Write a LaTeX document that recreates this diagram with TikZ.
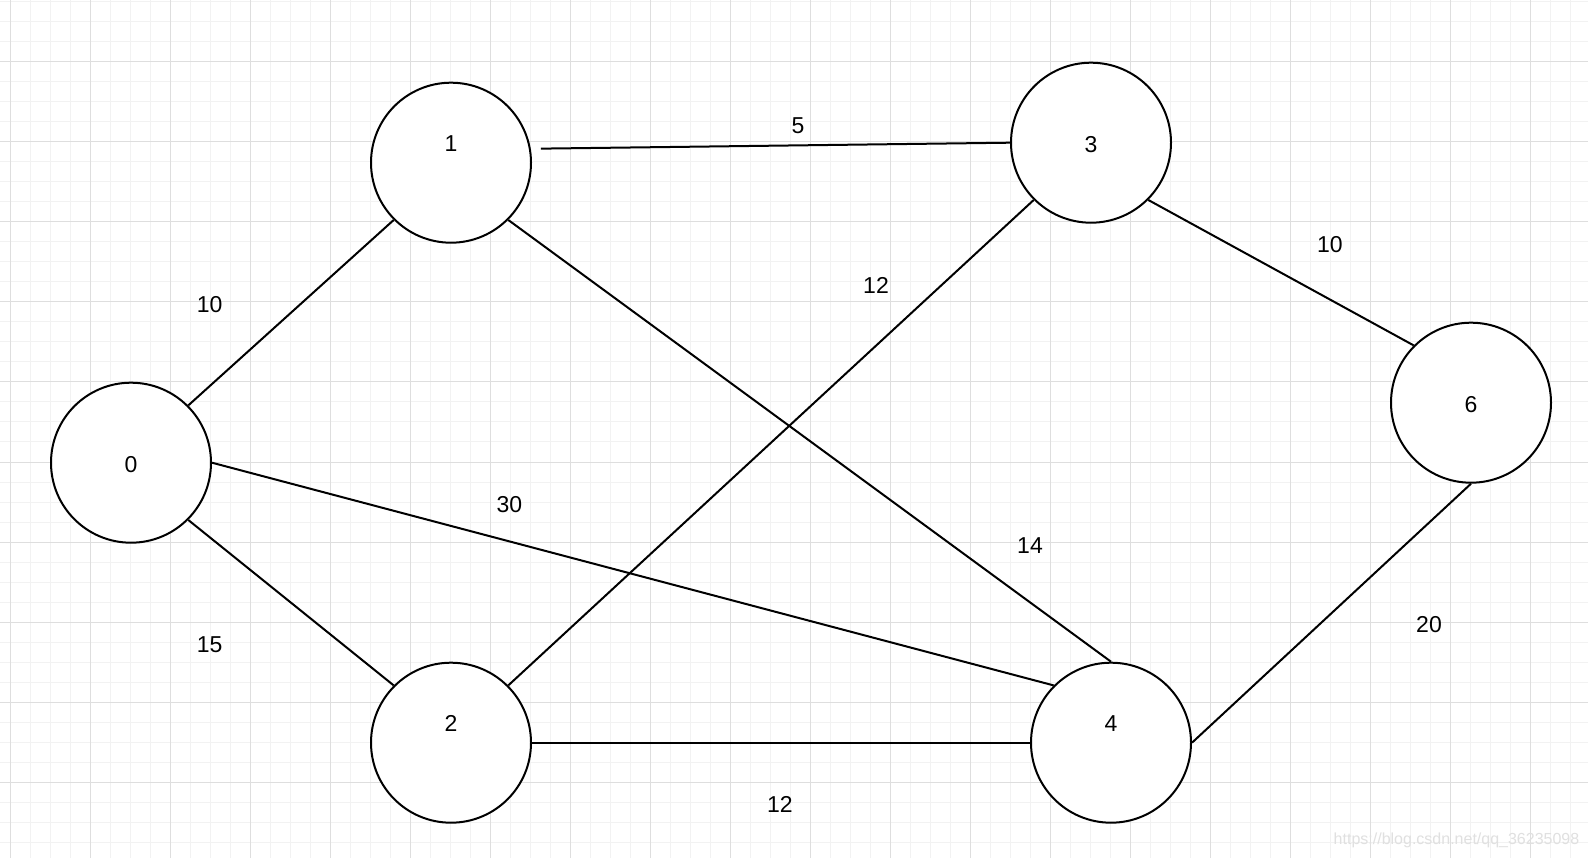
\documentclass[tikz,border=0pt]{standalone}
\usepackage{fontspec}
\setmainfont{Liberation Sans}

\begin{document}
\begin{tikzpicture}[x=1pt,y=-1pt,line width=2pt,
    vertex/.style={circle,draw,fill=white,minimum size=160pt,inner sep=0pt,
      text height=19.5pt,font=\fontsize{23}{28}\selectfont},
    raised/.style={text depth=41.5pt},
    weight/.style={font=\fontsize{23}{28}\selectfont},
    minorline/.style={draw=black!5,line width=1pt},
    majorline/.style={draw=black!13,line width=1pt}]
  \useasboundingbox[fill=white] (0,0) rectangle (1588,858);

  % background grid
  \foreach \gx in {10.7,30.7,...,1588} \draw[minorline] (\gx,0) -- (\gx,858);
  \foreach \gy in {2,22,...,858} \draw[minorline] (0,\gy) -- (1588,\gy);
  \foreach \gx in {10.7,90.7,...,1588} \draw[majorline] (\gx,0) -- (\gx,858);
  \foreach \gy in {62,142,...,858} \draw[majorline] (0,\gy) -- (1588,\gy);

  \node[vertex]        (v0) at (131,462.7)  {0};
  \node[vertex,raised] (v1) at (451,162.7)  {1};
  \node[vertex,raised] (v2) at (451,742.7)  {2};
  \node[vertex]        (v3) at (1091,142.7) {3};
  \node[vertex,raised] (v4) at (1111,742.7) {4};
  \node[vertex]        (v6) at (1471,402.7) {6};

  \path (v0.45)             edge (v1.225)
        (v0.-45)            edge (v2.135)
        (v0.east)           edge (v4.135)
        ([xshift=10pt]v1.10) edge (v3.west)
        (v1.-45)            edge (v4.north)
        (v3.225)            edge (v2.45)
        (v3.-45)            edge (v6.135)
        (v2.east)           edge (v4.west)
        (v6.south)          edge (v4.east);

  \node[weight] (w01) at (209.6,304.3)  {10};
  \node[weight] (w02) at (209.6,644.5)  {15};
  \node[weight] (w04) at (509.4,504.9)  {30};
  \node[weight] (w13) at (798,125.5)    {5};
  \node[weight] (w14) at (1030,545.4)   {14};
  \node[weight] (w23) at (876,285.1)    {12};
  \node[weight] (w24) at (779.8,804.6)  {12};
  \node[weight] (w36) at (1329.8,244.5) {10};
  \node[weight] (w46) at (1429,624.4)   {20};

  \node[text=black!12,font=\fontsize{16}{19}\selectfont] (mark) at (1456.5,840)
    {https://blog.csdn.net/qq\_36235098};
\end{tikzpicture}
\end{document}
